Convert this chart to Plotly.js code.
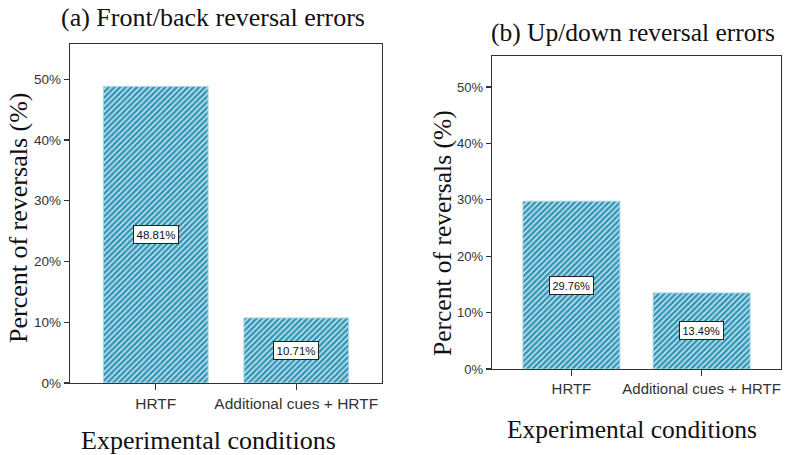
<!DOCTYPE html>
<html>
<head>
<meta charset="utf-8">
<script src="https://cdn.plot.ly/plotly-3.0.1.min.js"></script>
<style>html,body{margin:0;padding:0;background:#fff;}#chart{width:790px;height:455px;}</style>
</head>
<body>
<div id="chart"></div>
<script>
// Data
const categories = ["HRTF", "Additional cues + HRTF"];
const frontBackValues = [48.81, 10.71];
const upDownValues = [29.76, 13.49];
const yTickVals = [0, 10, 20, 30, 40, 50];
const yTickText = ["0%", "10%", "20%", "30%", "40%", "50%"];
const panelTitles = ["(a) Front/back reversal errors", "(b) Up/down reversal errors"];
const xTitle = "Experimental conditions";
const yTitle = "Percent of reversals (%)";

const serif = "Liberation Serif, Times New Roman, serif";
const sans = "Liberation Sans, Arial, sans-serif";
const barColor = "#3597b8";

function barTrace(vals, xa, ya) {
  return {
    type: "bar",
    x: [0, 1],
    y: vals,
    xaxis: xa, yaxis: ya,
    width: 0.745,
    marker: {
      color: barColor,
      line: {color: "#a6d6e6", width: 1},
      pattern: {shape: "/", bgcolor: barColor, fgcolor: "#e6f4f9", size: 4, solidity: 0.3}
    },
    hoverinfo: "skip",
    showlegend: false
  };
}

function yAxis(domain, anchor, range, fsize) {
  return {
    domain: domain, anchor: anchor, range: range,
    tickvals: yTickVals, ticktext: yTickText,
    ticks: "outside", ticklen: 5, tickwidth: 1.2, tickcolor: "#333",
    showline: true, mirror: true, linecolor: "#333", linewidth: 1.3,
    showgrid: false, zeroline: false,
    tickfont: {family: sans, size: fsize, color: "#333"}
  };
}
function xAxis(domain, anchor, fsize) {
  return {
    domain: domain, anchor: anchor, range: [-0.61, 1.61],
    tickvals: [0, 1], ticktext: categories,
    ticks: "outside", ticklen: 6, tickwidth: 1.2, tickcolor: "#333",
    showline: true, mirror: true, linecolor: "#333", linewidth: 1.3,
    showgrid: false, zeroline: false,
    tickfont: {family: sans, size: fsize, color: "#333"}
  };
}

const data = [
  barTrace(frontBackValues, "x", "y"),
  barTrace(upDownValues, "x2", "y2")
];

const annotations = [];
function valueLabels(vals, xr, yr, fsize) {
  vals.forEach((v, i) => {
    annotations.push({
      x: i, y: v / 2, xref: xr, yref: yr, xanchor: "center", yanchor: "middle",
      text: v.toFixed(2) + "%", showarrow: false,
      bgcolor: "#fff", bordercolor: "#222", borderwidth: 1, borderpad: 2.5,
      font: {family: sans, size: fsize, color: "#111"}
    });
  });
}
valueLabels(frontBackValues, "x", "y", 11.5);
valueLabels(upDownValues, "x2", "y2", 11);

function paperText(text, px, py, size, angle) {
  annotations.push({x: px / 790, y: 1 - py / 455, xref: "paper", yref: "paper",
    xanchor: "center", yanchor: "middle", text: text, textangle: angle || 0,
    showarrow: false, font: {family: serif, size: size, color: "#111"}});
}
// Panel titles
paperText(panelTitles[0], 213, 18, 26);
paperText(panelTitles[1], 633, 33, 25.5);
// X titles
paperText(xTitle, 208, 440, 26);
paperText(xTitle, 632, 429, 25.5);
// Y titles
paperText(yTitle, 18, 218, 26, -90);
paperText(yTitle, 443, 233, 25.5, -90);

const layout = {
  width: 790, height: 455,
  margin: {l: 0, r: 0, t: 0, b: 0},
  paper_bgcolor: "#fff", plot_bgcolor: "#fff",
  xaxis: xAxis([70/790, 382/790], "y", 15.5),
  yaxis: yAxis([1 - 383/455, 1 - 44/455], "x", [0, 55.8], 13.5),
  xaxis2: xAxis([492/790, 781/790], "y2", 15),
  yaxis2: yAxis([1 - 369/455, 1 - 56/455], "x2", [0, 55.5], 13),
  annotations: annotations,
  showlegend: false
};

Plotly.newPlot("chart", data, layout, {staticPlot: true});
</script>
</body>
</html>
